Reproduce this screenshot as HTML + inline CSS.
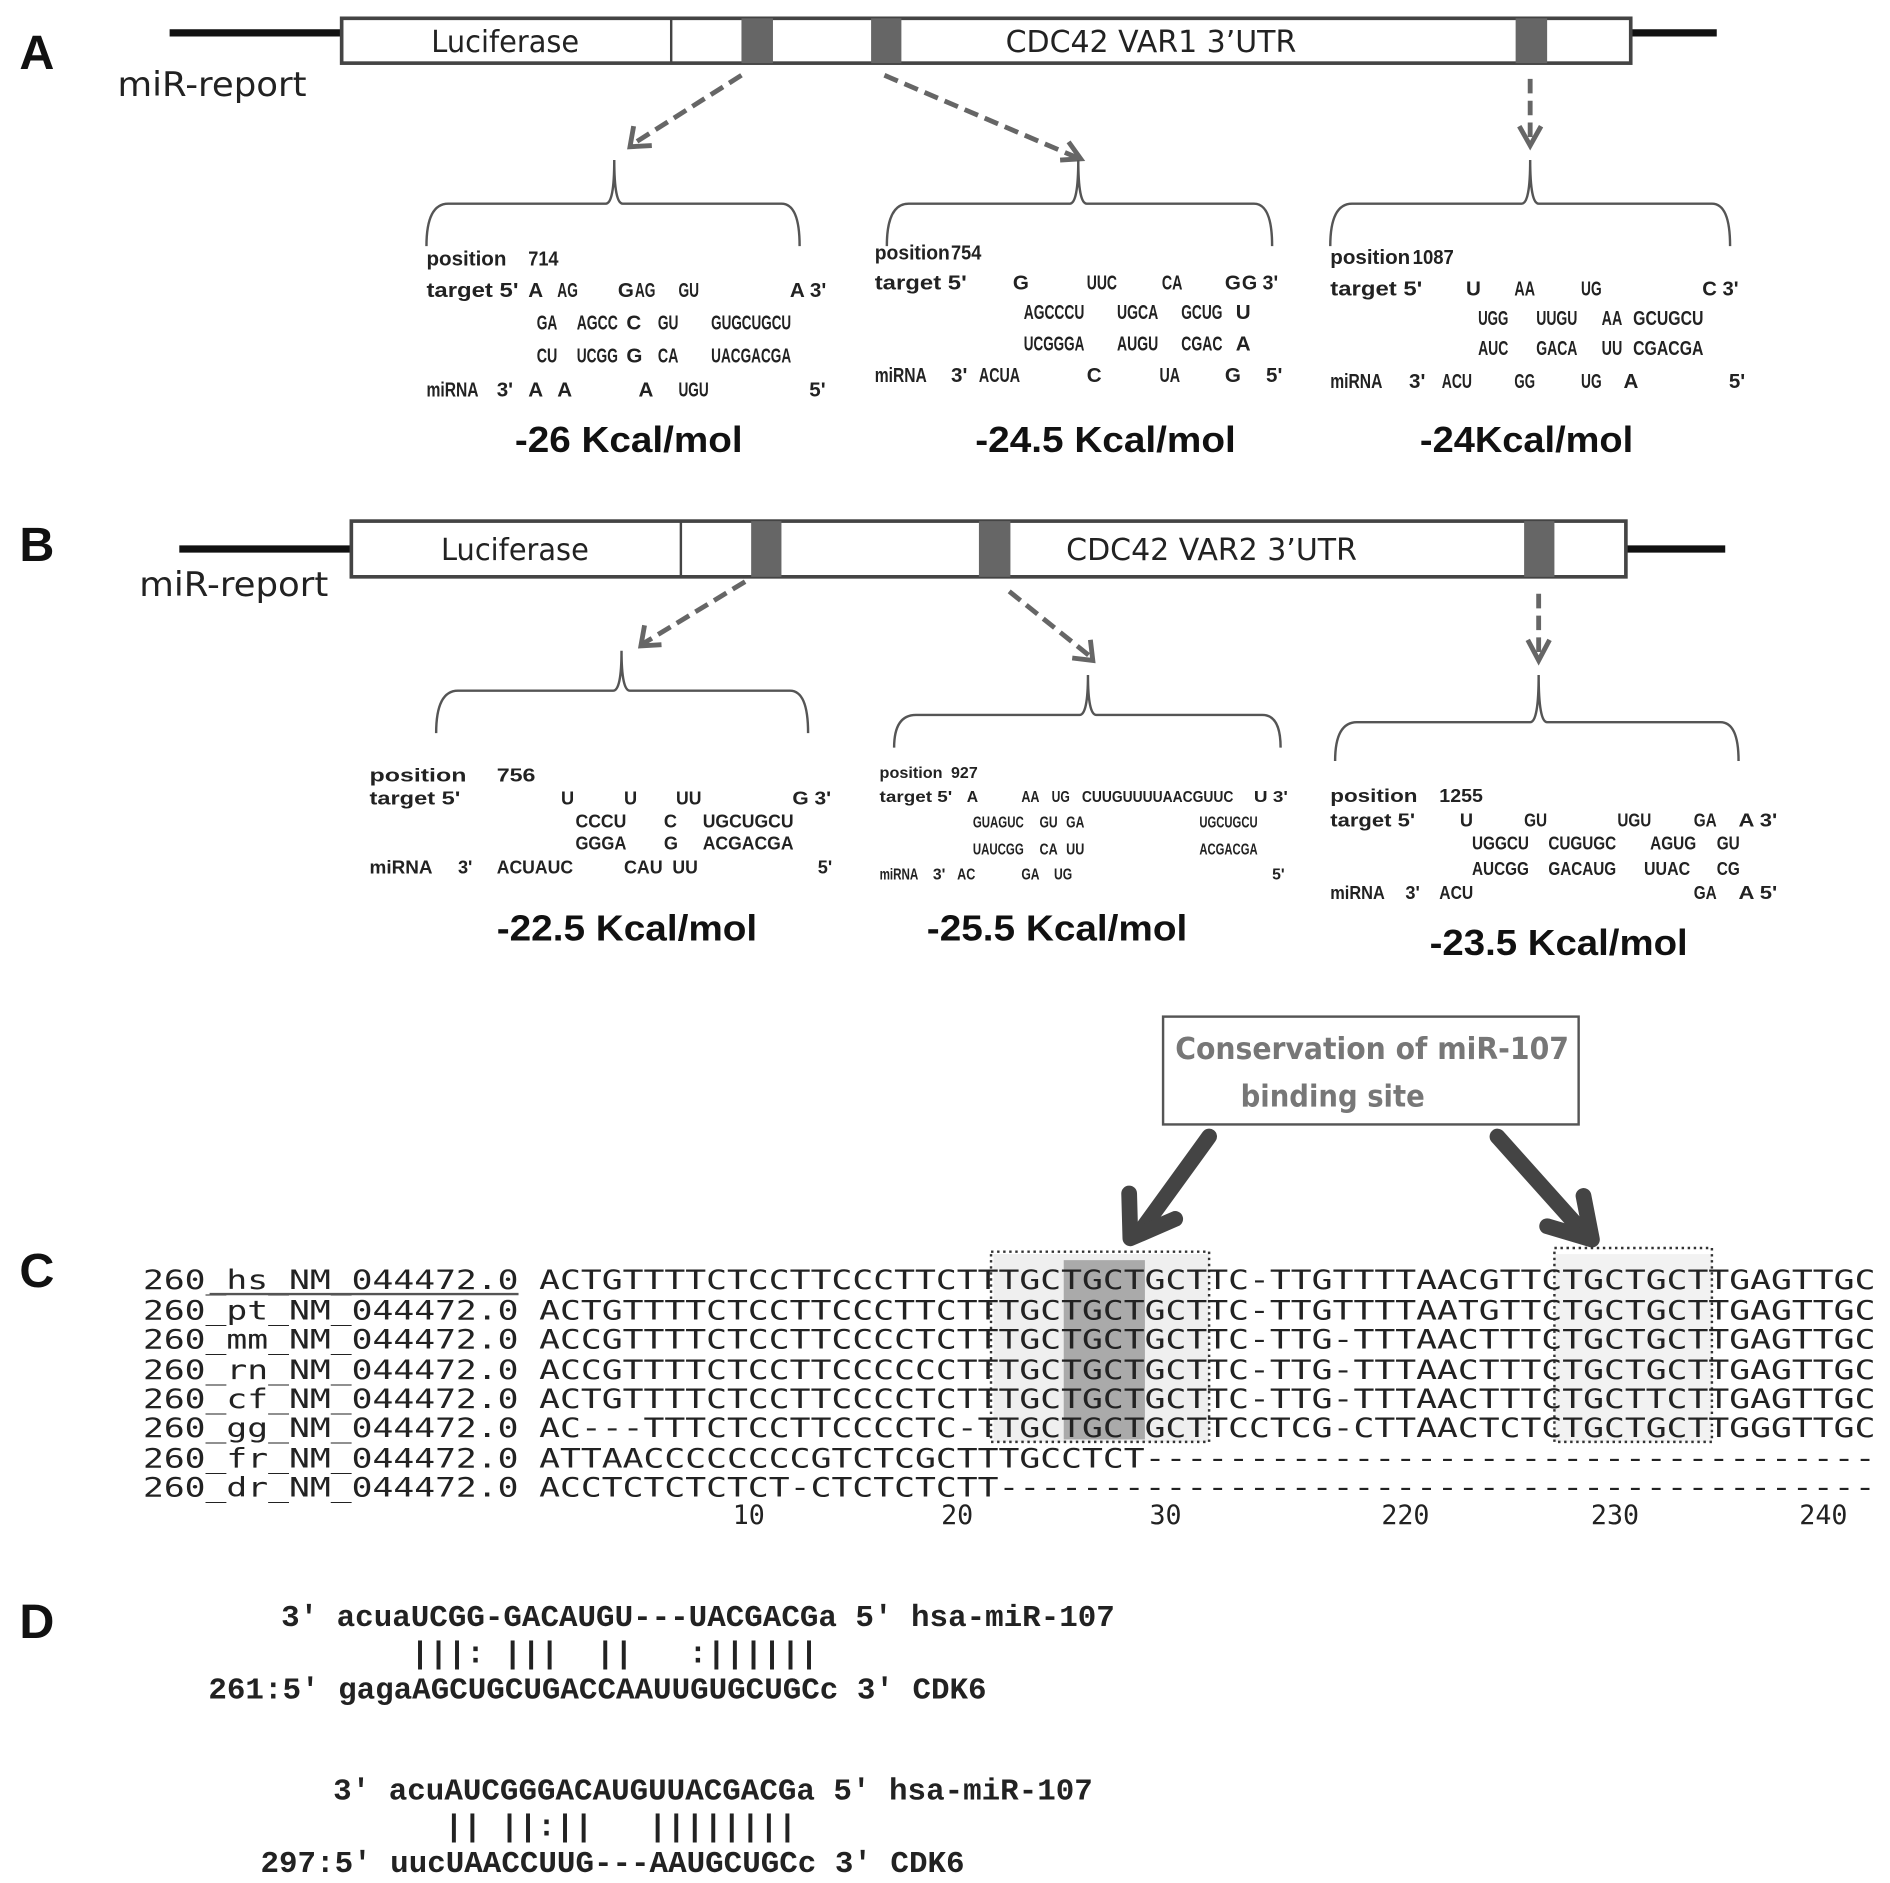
<!DOCTYPE html>
<html><head><meta charset="utf-8"><style>
html,body{margin:0;padding:0;background:#fff;}
svg{display:block;}
.s{font-family:"Liberation Sans",sans-serif;fill:#222;font-weight:bold;}
.a{font-size:17px;}
.b1{font-size:15px;}
.b2{font-size:13px;}
.en{font-family:"Liberation Sans",sans-serif;font-weight:bold;font-size:30px;fill:#111;}
.lab{font-family:"Liberation Sans",sans-serif;font-weight:bold;font-size:40px;fill:#111;}
.box{font-family:"DejaVu Sans","Liberation Sans",sans-serif;font-size:25px;fill:#222;}
.aln{font-family:"DejaVu Sans Mono","Liberation Mono",monospace;font-size:22px;fill:#222;}
.d{font-family:"Liberation Mono",monospace;font-size:25.5px;font-weight:bold;fill:#222;white-space:pre;}
</style></head><body>
<svg width="1890" height="1883" viewBox="0 0 1560 1554" xmlns="http://www.w3.org/2000/svg">
<rect width="1560" height="1554" fill="#fff"/>
<!-- A -->
<text class="lab" x="16" y="57">A</text>
<line x1="140" y1="27" x2="282" y2="27" stroke="#111" stroke-width="6"/>
<line x1="1346" y1="27" x2="1417" y2="27" stroke="#111" stroke-width="6"/>
<rect x="282" y="15" width="1064" height="37" fill="#fff" stroke="#444" stroke-width="3"/>
<line x1="554" y1="15" x2="554" y2="52" stroke="#444" stroke-width="2"/>
<rect x="612" y="15" width="26" height="37" fill="#666"/>
<rect x="719" y="15" width="25" height="37" fill="#666"/>
<rect x="1251" y="15" width="26" height="37" fill="#666"/>
<text class="box" x="417" y="43" text-anchor="middle" textLength="122" lengthAdjust="spacingAndGlyphs">Luciferase</text>
<text class="box" x="950" y="43" text-anchor="middle" textLength="240" lengthAdjust="spacingAndGlyphs">CDC42 VAR1 3’UTR</text>
<text class="box" x="97" y="79" style="font-size:28px" textLength="156" lengthAdjust="spacingAndGlyphs">miR-report</text>
<g stroke="#666" stroke-width="4" fill="none" stroke-dasharray="12,6">
<line x1="612" y1="62" x2="522" y2="119"/>
<line x1="730" y1="62" x2="889" y2="130"/>
<line x1="1263" y1="65" x2="1263" y2="118"/>
</g>
<g stroke="#666" stroke-width="4" fill="none">
<polyline points="523,104 520,121 538,120"/>
<polyline points="875,132 892,131 882,117"/>
<polyline points="1254,104 1263,120 1272,104"/>
</g>
<g stroke="#555" stroke-width="2" fill="none">
<path d="M352,203 Q352,168 370,168 L500,168 Q507,168 507,132 Q507,168 514,168 L645,168 Q660,168 660,203"/>
<path d="M732,203 Q732,168 750,168 L883,168 Q890,168 890,132 Q890,168 897,168 L1035,168 Q1050,168 1050,203"/>
<path d="M1098,203 Q1098,168 1116,168 L1256,168 Q1263,168 1263,132 Q1263,168 1270,168 L1413,168 Q1428,168 1428,203"/>
</g>
<g class="s a">
<text x="352" y="219" textLength="66" lengthAdjust="spacingAndGlyphs">position</text><text x="436" y="219" textLength="25" lengthAdjust="spacingAndGlyphs">714</text>
<text x="352" y="245" textLength="76" lengthAdjust="spacingAndGlyphs">target 5'</text><text x="436" y="245">A</text><text x="460" y="245" textLength="17" lengthAdjust="spacingAndGlyphs">AG</text><text x="510" y="245">G</text><text x="524" y="245" textLength="17" lengthAdjust="spacingAndGlyphs">AG</text><text x="560" y="245" textLength="17" lengthAdjust="spacingAndGlyphs">GU</text><text x="652" y="245" textLength="30" lengthAdjust="spacingAndGlyphs">A 3'</text>
<text x="443" y="272" textLength="17" lengthAdjust="spacingAndGlyphs">GA</text><text x="476" y="272" textLength="34" lengthAdjust="spacingAndGlyphs">AGCC</text><text x="517" y="272">C</text><text x="543" y="272" textLength="17" lengthAdjust="spacingAndGlyphs">GU</text><text x="587" y="272" textLength="66" lengthAdjust="spacingAndGlyphs">GUGCUGCU</text>
<text x="443" y="299" textLength="17" lengthAdjust="spacingAndGlyphs">CU</text><text x="476" y="299" textLength="34" lengthAdjust="spacingAndGlyphs">UCGG</text><text x="517" y="299">G</text><text x="543" y="299" textLength="17" lengthAdjust="spacingAndGlyphs">CA</text><text x="587" y="299" textLength="66" lengthAdjust="spacingAndGlyphs">UACGACGA</text>
<text x="352" y="327" textLength="43" lengthAdjust="spacingAndGlyphs">miRNA</text><text x="410" y="327">3'</text><text x="436" y="327">A</text><text x="460" y="327">A</text><text x="527" y="327">A</text><text x="560" y="327" textLength="25" lengthAdjust="spacingAndGlyphs">UGU</text><text x="668" y="327">5'</text>

<text x="722" y="214" textLength="62" lengthAdjust="spacingAndGlyphs">position</text><text x="785" y="214" textLength="25" lengthAdjust="spacingAndGlyphs">754</text>
<text x="722" y="239" textLength="76" lengthAdjust="spacingAndGlyphs">target 5'</text><text x="836" y="239">G</text><text x="897" y="239" textLength="25" lengthAdjust="spacingAndGlyphs">UUC</text><text x="959" y="239" textLength="17" lengthAdjust="spacingAndGlyphs">CA</text><text x="1011" y="239">G</text><text x="1025" y="239" textLength="30" lengthAdjust="spacingAndGlyphs">G 3'</text>
<text x="845" y="263" textLength="50" lengthAdjust="spacingAndGlyphs">AGCCCU</text><text x="922" y="263" textLength="34" lengthAdjust="spacingAndGlyphs">UGCA</text><text x="975" y="263" textLength="34" lengthAdjust="spacingAndGlyphs">GCUG</text><text x="1020" y="263">U</text>
<text x="845" y="289" textLength="50" lengthAdjust="spacingAndGlyphs">UCGGGA</text><text x="922" y="289" textLength="34" lengthAdjust="spacingAndGlyphs">AUGU</text><text x="975" y="289" textLength="34" lengthAdjust="spacingAndGlyphs">CGAC</text><text x="1020" y="289">A</text>
<text x="722" y="315" textLength="43" lengthAdjust="spacingAndGlyphs">miRNA</text><text x="785" y="315">3'</text><text x="808" y="315" textLength="34" lengthAdjust="spacingAndGlyphs">ACUA</text><text x="897" y="315">C</text><text x="957" y="315" textLength="17" lengthAdjust="spacingAndGlyphs">UA</text><text x="1011" y="315">G</text><text x="1045" y="315">5'</text>

<text x="1098" y="218" textLength="66" lengthAdjust="spacingAndGlyphs">position</text><text x="1166" y="218" textLength="34" lengthAdjust="spacingAndGlyphs">1087</text>
<text x="1098" y="244" textLength="76" lengthAdjust="spacingAndGlyphs">target 5'</text><text x="1210" y="244">U</text><text x="1250" y="244" textLength="17" lengthAdjust="spacingAndGlyphs">AA</text><text x="1305" y="244" textLength="17" lengthAdjust="spacingAndGlyphs">UG</text><text x="1405" y="244" textLength="30" lengthAdjust="spacingAndGlyphs">C 3'</text>
<text x="1220" y="268" textLength="25" lengthAdjust="spacingAndGlyphs">UGG</text><text x="1268" y="268" textLength="34" lengthAdjust="spacingAndGlyphs">UUGU</text><text x="1322" y="268" textLength="17" lengthAdjust="spacingAndGlyphs">AA</text><text x="1348" y="268" textLength="58" lengthAdjust="spacingAndGlyphs">GCUGCU</text>
<text x="1220" y="293" textLength="25" lengthAdjust="spacingAndGlyphs">AUC</text><text x="1268" y="293" textLength="34" lengthAdjust="spacingAndGlyphs">GACA</text><text x="1322" y="293" textLength="17" lengthAdjust="spacingAndGlyphs">UU</text><text x="1348" y="293" textLength="58" lengthAdjust="spacingAndGlyphs">CGACGA</text>
<text x="1098" y="320" textLength="43" lengthAdjust="spacingAndGlyphs">miRNA</text><text x="1163" y="320">3'</text><text x="1190" y="320" textLength="25" lengthAdjust="spacingAndGlyphs">ACU</text><text x="1250" y="320" textLength="17" lengthAdjust="spacingAndGlyphs">GG</text><text x="1305" y="320" textLength="17" lengthAdjust="spacingAndGlyphs">UG</text><text x="1340" y="320">A</text><text x="1427" y="320">5'</text>
</g>
<text class="en" x="425" y="373" textLength="188" lengthAdjust="spacingAndGlyphs">-26 Kcal/mol</text>
<text class="en" x="805" y="373" textLength="215" lengthAdjust="spacingAndGlyphs">-24.5 Kcal/mol</text>
<text class="en" x="1172" y="373" textLength="176" lengthAdjust="spacingAndGlyphs">-24Kcal/mol</text>

<!-- B -->
<text class="lab" x="16" y="463">B</text>
<line x1="148" y1="453" x2="290" y2="453" stroke="#111" stroke-width="6"/>
<line x1="1342" y1="453" x2="1424" y2="453" stroke="#111" stroke-width="6"/>
<rect x="290" y="430" width="1052" height="46" fill="#fff" stroke="#444" stroke-width="3"/>
<line x1="562" y1="430" x2="562" y2="476" stroke="#444" stroke-width="2"/>
<rect x="620" y="430" width="25" height="46" fill="#666"/>
<rect x="808" y="430" width="26" height="46" fill="#666"/>
<rect x="1258" y="430" width="25" height="46" fill="#666"/>
<text class="box" x="425" y="462" text-anchor="middle" textLength="122" lengthAdjust="spacingAndGlyphs">Luciferase</text>
<text class="box" x="1000" y="462" text-anchor="middle" textLength="240" lengthAdjust="spacingAndGlyphs">CDC42 VAR2 3’UTR</text>
<text class="box" x="115" y="492" style="font-size:28px" textLength="156" lengthAdjust="spacingAndGlyphs">miR-report</text>
<g stroke="#666" stroke-width="4" fill="none" stroke-dasharray="12,6">
<line x1="615" y1="480" x2="531" y2="531"/>
<line x1="833" y1="488" x2="899" y2="541"/>
<line x1="1270" y1="490" x2="1270" y2="542"/>
</g>
<g stroke="#666" stroke-width="4" fill="none">
<polyline points="532,516 529,533 546,532"/>
<polyline points="885,543 902,545 900,528"/>
<polyline points="1261,528 1270,545 1279,528"/>
</g>
<g stroke="#555" stroke-width="2" fill="none">
<path d="M360,605 Q360,570 378,570 L506,570 Q513,570 513,537 Q513,570 520,570 L652,570 Q667,570 667,605"/>
<path d="M738,617 Q738,590 756,590 L891,590 Q898,590 898,557 Q898,590 905,590 L1042,590 Q1057,590 1057,617"/>
<path d="M1102,628 Q1102,596 1120,596 L1263,596 Q1270,596 1270,557 Q1270,596 1277,596 L1420,596 Q1435,596 1435,628"/>
</g>
<g class="s b1">
<text x="305" y="645" textLength="80" lengthAdjust="spacingAndGlyphs">position</text><text x="410" y="645" textLength="32" lengthAdjust="spacingAndGlyphs">756</text>
<text x="305" y="664" textLength="75" lengthAdjust="spacingAndGlyphs">target 5'</text><text x="463" y="664">U</text><text x="515" y="664">U</text><text x="558" y="664" textLength="21" lengthAdjust="spacingAndGlyphs">UU</text><text x="654" y="664" textLength="32" lengthAdjust="spacingAndGlyphs">G 3'</text>
<text x="475" y="683" textLength="42" lengthAdjust="spacingAndGlyphs">CCCU</text><text x="548" y="683">C</text><text x="580" y="683" textLength="75" lengthAdjust="spacingAndGlyphs">UGCUGCU</text>
<text x="475" y="701" textLength="42" lengthAdjust="spacingAndGlyphs">GGGA</text><text x="548" y="701">G</text><text x="580" y="701" textLength="75" lengthAdjust="spacingAndGlyphs">ACGACGA</text>
<text x="305" y="721" textLength="52" lengthAdjust="spacingAndGlyphs">miRNA</text><text x="378" y="721">3'</text><text x="410" y="721" textLength="63" lengthAdjust="spacingAndGlyphs">ACUAUC</text><text x="515" y="721" textLength="32" lengthAdjust="spacingAndGlyphs">CAU</text><text x="555" y="721" textLength="21" lengthAdjust="spacingAndGlyphs">UU</text><text x="675" y="721">5'</text>

<text x="1098" y="662" textLength="72" lengthAdjust="spacingAndGlyphs">position</text><text x="1188" y="662" textLength="36" lengthAdjust="spacingAndGlyphs">1255</text>
<text x="1098" y="682" textLength="70" lengthAdjust="spacingAndGlyphs">target 5'</text><text x="1205" y="682">U</text><text x="1258" y="682" textLength="19" lengthAdjust="spacingAndGlyphs">GU</text><text x="1335" y="682" textLength="28" lengthAdjust="spacingAndGlyphs">UGU</text><text x="1398" y="682" textLength="19" lengthAdjust="spacingAndGlyphs">GA</text><text x="1435" y="682" textLength="32" lengthAdjust="spacingAndGlyphs">A 3'</text>
<text x="1215" y="701" textLength="47" lengthAdjust="spacingAndGlyphs">UGGCU</text><text x="1278" y="701" textLength="56" lengthAdjust="spacingAndGlyphs">CUGUGC</text><text x="1362" y="701" textLength="38" lengthAdjust="spacingAndGlyphs">AGUG</text><text x="1417" y="701" textLength="19" lengthAdjust="spacingAndGlyphs">GU</text>
<text x="1215" y="722" textLength="47" lengthAdjust="spacingAndGlyphs">AUCGG</text><text x="1278" y="722" textLength="56" lengthAdjust="spacingAndGlyphs">GACAUG</text><text x="1357" y="722" textLength="38" lengthAdjust="spacingAndGlyphs">UUAC</text><text x="1417" y="722" textLength="19" lengthAdjust="spacingAndGlyphs">CG</text>
<text x="1098" y="742" textLength="45" lengthAdjust="spacingAndGlyphs">miRNA</text><text x="1160" y="742">3'</text><text x="1188" y="742" textLength="28" lengthAdjust="spacingAndGlyphs">ACU</text><text x="1398" y="742" textLength="19" lengthAdjust="spacingAndGlyphs">GA</text><text x="1435" y="742" textLength="32" lengthAdjust="spacingAndGlyphs">A 5'</text>
</g>
<g class="s b2">
<text x="726" y="642" textLength="52" lengthAdjust="spacingAndGlyphs">position</text><text x="785" y="642" textLength="22" lengthAdjust="spacingAndGlyphs">927</text>
<text x="726" y="662" textLength="60" lengthAdjust="spacingAndGlyphs">target 5'</text><text x="798" y="662">A</text><text x="843" y="662" textLength="15" lengthAdjust="spacingAndGlyphs">AA</text><text x="868" y="662" textLength="15" lengthAdjust="spacingAndGlyphs">UG</text><text x="893" y="662" textLength="125" lengthAdjust="spacingAndGlyphs">CUUGUUUUAACGUUC</text><text x="1035" y="662" textLength="28" lengthAdjust="spacingAndGlyphs">U 3'</text>
<text x="803" y="683" textLength="42" lengthAdjust="spacingAndGlyphs">GUAGUC</text><text x="858" y="683" textLength="15" lengthAdjust="spacingAndGlyphs">GU</text><text x="880" y="683" textLength="15" lengthAdjust="spacingAndGlyphs">GA</text><text x="990" y="683" textLength="48" lengthAdjust="spacingAndGlyphs">UGCUGCU</text>
<text x="803" y="705" textLength="42" lengthAdjust="spacingAndGlyphs">UAUCGG</text><text x="858" y="705" textLength="15" lengthAdjust="spacingAndGlyphs">CA</text><text x="880" y="705" textLength="15" lengthAdjust="spacingAndGlyphs">UU</text><text x="990" y="705" textLength="48" lengthAdjust="spacingAndGlyphs">ACGACGA</text>
<text x="726" y="726" textLength="32" lengthAdjust="spacingAndGlyphs">miRNA</text><text x="770" y="726">3'</text><text x="790" y="726" textLength="15" lengthAdjust="spacingAndGlyphs">AC</text><text x="843" y="726" textLength="15" lengthAdjust="spacingAndGlyphs">GA</text><text x="870" y="726" textLength="15" lengthAdjust="spacingAndGlyphs">UG</text><text x="1050" y="726">5'</text>
</g>
<text class="en" x="410" y="776" textLength="215" lengthAdjust="spacingAndGlyphs">-22.5 Kcal/mol</text>
<text class="en" x="765" y="776" textLength="215" lengthAdjust="spacingAndGlyphs">-25.5 Kcal/mol</text>
<text class="en" x="1180" y="788" textLength="213" lengthAdjust="spacingAndGlyphs">-23.5 Kcal/mol</text>

<!-- conservation -->
<rect x="960" y="839" width="343" height="89" fill="#fff" stroke="#555" stroke-width="2"/>
<text x="970" y="874" textLength="325" lengthAdjust="spacingAndGlyphs" style="font-family:'DejaVu Sans','Liberation Sans',sans-serif;font-weight:bold;font-size:25px;fill:#777">Conservation  of miR-107</text>
<text x="1024" y="913" textLength="152" lengthAdjust="spacingAndGlyphs" style="font-family:'DejaVu Sans','Liberation Sans',sans-serif;font-weight:bold;font-size:25px;fill:#777">binding  site</text>
<g stroke="#444" stroke-width="13" fill="none" stroke-linecap="round" stroke-linejoin="round">
<line x1="998" y1="938" x2="940" y2="1018"/>
<polyline points="932,985 933,1022 970,1006"/>
<line x1="1236" y1="938" x2="1305" y2="1015"/>
<polyline points="1277,1012 1314,1023 1307,987"/>
</g>

<!-- C -->
<text class="lab" x="16" y="1062">C</text>
<rect x="820" y="1035" width="178" height="155" fill="#efefef"/>
<rect x="878" y="1040" width="67" height="148" fill="#aaa"/>
<rect x="1283" y="1035" width="130" height="155" fill="#f2f2f2"/>
<g fill="none" stroke="#333" stroke-width="2" stroke-dasharray="2,3">
<rect x="818" y="1033" width="180" height="157"/>
<rect x="1283" y="1030" width="130" height="160"/>
</g>
<g class="aln">
<text x="118" y="1064" textLength="310" lengthAdjust="spacingAndGlyphs">260_hs_NM_044472.0</text>
<text x="118" y="1089" textLength="310" lengthAdjust="spacingAndGlyphs">260_pt_NM_044472.0</text>
<text x="118" y="1113" textLength="310" lengthAdjust="spacingAndGlyphs">260_mm_NM_044472.0</text>
<text x="118" y="1138" textLength="310" lengthAdjust="spacingAndGlyphs">260_rn_NM_044472.0</text>
<text x="118" y="1162" textLength="310" lengthAdjust="spacingAndGlyphs">260_cf_NM_044472.0</text>
<text x="118" y="1186" textLength="310" lengthAdjust="spacingAndGlyphs">260_gg_NM_044472.0</text>
<text x="118" y="1211" textLength="310" lengthAdjust="spacingAndGlyphs">260_fr_NM_044472.0</text>
<text x="118" y="1235" textLength="310" lengthAdjust="spacingAndGlyphs">260_dr_NM_044472.0</text>
<text x="445" y="1064" textLength="1103" lengthAdjust="spacingAndGlyphs">ACTGTTTTCTCCTTCCCTTCTTTGCTGCTGCTTC-TTGTTTTAACGTTCTGCTGCTTGAGTTGC</text>
<text x="445" y="1089" textLength="1103" lengthAdjust="spacingAndGlyphs">ACTGTTTTCTCCTTCCCTTCTTTGCTGCTGCTTC-TTGTTTTAATGTTCTGCTGCTTGAGTTGC</text>
<text x="445" y="1113" textLength="1103" lengthAdjust="spacingAndGlyphs">ACCGTTTTCTCCTTCCCCTCTTTGCTGCTGCTTC-TTG-TTTAACTTTCTGCTGCTTGAGTTGC</text>
<text x="445" y="1138" textLength="1103" lengthAdjust="spacingAndGlyphs">ACCGTTTTCTCCTTCCCCCCTTTGCTGCTGCTTC-TTG-TTTAACTTTCTGCTGCTTGAGTTGC</text>
<text x="445" y="1162" textLength="1103" lengthAdjust="spacingAndGlyphs">ACTGTTTTCTCCTTCCCCTCTTTGCTGCTGCTTC-TTG-TTTAACTTTCTGCTTCTTGAGTTGC</text>
<text x="445" y="1186" textLength="1103" lengthAdjust="spacingAndGlyphs">AC---TTTCTCCTTCCCCTC-TTGCTGCTGCTTCCTCG-CTTAACTCTCTGCTGCTTGGGTTGC</text>
<text x="445" y="1211" textLength="1103" lengthAdjust="spacingAndGlyphs">ATTAACCCCCCCCGTCTCGCTTTGCCTCT-----------------------------------</text>
<text x="445" y="1235" textLength="1103" lengthAdjust="spacingAndGlyphs">ACCTCTCTCTCT-CTCTCTCTT------------------------------------------</text>
<text x="618" y="1258" text-anchor="middle">10</text>
<text x="790" y="1258" text-anchor="middle">20</text>
<text x="962" y="1258" text-anchor="middle">30</text>
<text x="1160" y="1258" text-anchor="middle">220</text>
<text x="1333" y="1258" text-anchor="middle">230</text>
<text x="1505" y="1258" text-anchor="middle">240</text>
</g>
<line x1="173" y1="1068" x2="428" y2="1068" stroke="#555" stroke-width="2"/>

<!-- D -->
<text class="lab" x="16" y="1352">D</text>
<g class="d">
<text x="232" y="1342">3'&#160;acuaUCGG-GACAUGU---UACGACGa&#160;5'&#160;hsa-miR-107</text>
<text x="339" y="1372">|||:&#160;|||&#160;&#160;||&#160;&#160;&#160;:||||||</text>
<text x="172" y="1402">261:5'&#160;gagaAGCUGCUGACCAAUUGUGCUGCc&#160;3'&#160;CDK6</text>
<text x="275" y="1485">3'&#160;acuAUCGGGACAUGUUACGACGa&#160;5'&#160;hsa-miR-107</text>
<text x="367" y="1515">||&#160;||:||&#160;&#160;&#160;||||||||</text>
<text x="215" y="1545">297:5'&#160;uucUAACCUUG---AAUGCUGCc&#160;3'&#160;CDK6</text>
</g>
</svg>
</body></html>
